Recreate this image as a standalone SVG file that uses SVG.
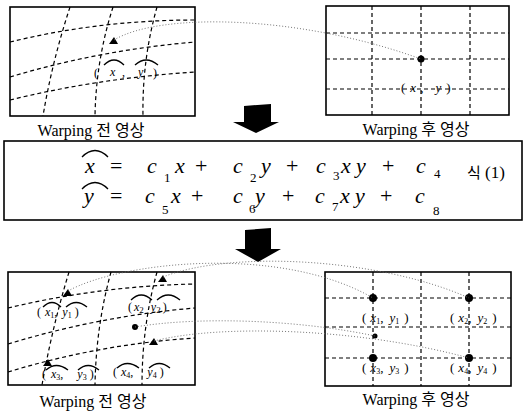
<svg xmlns="http://www.w3.org/2000/svg" width="525" height="414" viewBox="0 0 525 414">
<style>
.box{fill:none;stroke:#000;stroke-width:1.6}
.grid{fill:none;stroke:#000;stroke-width:1.2;stroke-dasharray:4 3}
.conn{fill:none;stroke:#666;stroke-width:0.9;stroke-dasharray:1 2}
.hat{fill:none;stroke:#000;stroke-width:1.3}
.cap{font-family:"Liberation Serif","Noto Sans CJK KR",serif;font-size:16px;fill:#000;text-anchor:middle}
.eq{font-family:"Liberation Serif",serif;font-size:22px;font-style:italic;fill:#000}
.op{font-family:"Liberation Serif",serif;font-size:22px;fill:#000}
.sb{font-family:"Liberation Serif",serif;font-size:13px;fill:#000}
.lb{font-family:"Liberation Serif",serif;font-size:12px;fill:#000}
.rl{font-family:"Liberation Serif",serif;font-size:13px;fill:#000}
.it{font-style:italic}
.ko{font-family:"Noto Sans CJK KR",sans-serif;font-size:15px;fill:#000}
</style>

<!-- Top-left: before warping -->
<g id="before-top">
  <rect class="box" x="10" y="7" width="185" height="109"/>
  <path class="grid" d="M70,7 Q52,62 43,116"/>
  <path class="grid" d="M113,7 Q96,60 95,116"/>
  <path class="grid" d="M157,7 Q142,60 143,116"/>
  <path class="grid" d="M10,42 Q100,20 195,20"/>
  <path class="grid" d="M10,77 Q100,50 195,42"/>
  <path class="grid" d="M10,100 Q100,78 195,72"/>
  <polygon points="109,44 118,44 114,37" fill="#000"/>
  <text class="lb" x="94" y="77" font-size="15">(</text>
  <text class="lb it" x="110" y="76">x</text>
  <text class="lb" x="122" y="76">,</text>
  <text class="lb it" x="138" y="76">y</text>
  <text class="lb" x="153" y="77" font-size="15">)</text>
  <path class="hat" d="M104,65 Q114,55 124,65"/>
  <path class="hat" d="M135,65 Q146,55 158,65"/>
  <text class="cap" x="91" y="136">Warping 전 영상</text>
</g>

<!-- Top-right: after warping -->
<g id="after-top">
  <rect class="box" x="326" y="6" width="183" height="109"/>
  <path class="grid" d="M372,6 V115 M421,6 V115 M470,6 V115 M326,33 H509 M326,59 H509 M326,89 H509"/>
  <circle cx="421" cy="59" r="3.5" fill="#000"/>
  <text class="rl" x="401" y="92">(<tspan class="it" dx="5">x</tspan><tspan dx="4">,</tspan><tspan class="it" dx="12">y</tspan><tspan dx="5">)</tspan></text>
  <text class="cap" x="416" y="135">Warping 후 영상</text>
</g>

<!-- Arrows -->
<g id="arrow-1">
  <polygon points="244,106 271,104 271,122 279,122 256,133 233,122 244,122" fill="#000"/>
</g>
<g id="arrow-2">
  <polygon points="245,230 271,228 271,249 281,249 258,262 235,249 245,249" fill="#000"/>
</g>

<!-- Equation -->
<g id="equation">
  <rect class="box" x="4" y="141" width="518" height="79"/>
  <path class="hat" d="M82,157 Q95,144 108,157"/>
  <text class="eq" x="85" y="173">x</text>
  <text class="op" x="110" y="173">=</text>
  <text class="eq" x="147" y="173">c</text><text class="sb" x="164" y="182">1</text>
  <text class="eq" x="175" y="173">x</text>
  <text class="op" x="195" y="173">+</text>
  <text class="eq" x="233" y="173">c</text><text class="sb" x="250" y="182">2</text>
  <text class="eq" x="261" y="173">y</text>
  <text class="op" x="286" y="173">+</text>
  <text class="eq" x="316" y="173">c</text><text class="sb" x="333" y="180">3</text>
  <text class="eq" x="341" y="173">x</text>
  <text class="eq" x="356" y="173">y</text>
  <text class="op" x="382" y="173">+</text>
  <text class="eq" x="416" y="173">c</text><text class="sb" x="434" y="178">4</text>

  <path class="hat" d="M82,189 Q95,176 108,189"/>
  <text class="eq" x="84" y="203">y</text>
  <text class="op" x="110" y="203">=</text>
  <text class="eq" x="145" y="203">c</text><text class="sb" x="162" y="214">5</text>
  <text class="eq" x="171" y="203">x</text>
  <text class="op" x="191" y="203">+</text>
  <text class="eq" x="233" y="203">c</text><text class="sb" x="249" y="213">6</text>
  <text class="eq" x="255" y="203">y</text>
  <text class="op" x="282" y="203">+</text>
  <text class="eq" x="315" y="203">c</text><text class="sb" x="332" y="211">7</text>
  <text class="eq" x="340" y="203">x</text>
  <text class="eq" x="355" y="203">y</text>
  <text class="op" x="380" y="203">+</text>
  <text class="eq" x="415" y="203">c</text><text class="sb" x="433" y="215">8</text>

  <text x="467" y="178"><tspan class="ko">식</tspan><tspan font-family="Liberation Serif, serif" font-size="17"> (1)</tspan></text>
</g>

<!-- Bottom-left: before warping -->
<g id="before-bottom">
  <rect class="box" x="8" y="272" width="187" height="113"/>
  <path class="grid" d="M69,272 Q52,328 42,385"/>
  <path class="grid" d="M111,272 Q96,326 95,385"/>
  <path class="grid" d="M157,272 Q142,326 142,385"/>
  <path class="grid" d="M8,308 Q100,286 195,284"/>
  <path class="grid" d="M8,344 Q100,316 195,308"/>
  <path class="grid" d="M8,372 Q100,344 195,338"/>
  <polygon points="63,296 72,296 68,289" fill="#000"/>
  <polygon points="158,282 167,282 163,275" fill="#000"/>
  <polygon points="43,366 52,366 48,359" fill="#000"/>
  <polygon points="149,345 158,345 154,338" fill="#000"/>
  <circle cx="135" cy="327" r="3" fill="#000"/>

  <text class="lb" x="37" y="316">(<tspan class="it" dx="4">x</tspan><tspan font-size="8" dy="2">1</tspan><tspan dy="-2">,</tspan><tspan class="it" dx="5">y</tspan><tspan font-size="8" dy="2">1</tspan><tspan dy="-2" dx="3">)</tspan></text>
  <path class="hat" d="M43,307 Q52,298 61,307"/>
  <path class="hat" d="M66,307 Q76,298 87,307"/>

  <text class="lb" x="128" y="311" font-size="14">(<tspan class="it" dx="2">x</tspan><tspan font-size="9" dy="2">2</tspan><tspan dy="-2"> </tspan><tspan class="it" dx="4">y</tspan><tspan font-size="9" dy="2">2</tspan><tspan dy="-2" dx="2">)</tspan></text>
  <path class="hat" d="M131,300 Q141,290 152,300"/>
  <path class="hat" d="M157,300 Q168,290 180,300"/>

  <text class="lb" x="42" y="378">(<tspan class="it" dx="5">x</tspan><tspan font-size="8" dy="2">3</tspan><tspan dy="-2">,</tspan><tspan class="it" dx="14">y</tspan><tspan font-size="8" dy="2">3</tspan><tspan dy="-2" dx="3">)</tspan></text>
  <path class="hat" d="M46,370 Q56,361 68,370"/>
  <path class="hat" d="M78,370 Q88,361 99,370"/>

  <text class="lb" x="113" y="376">(<tspan class="it" dx="4">x</tspan><tspan font-size="8" dy="2">4</tspan><tspan dy="-2">,</tspan><tspan class="it" dx="14">y</tspan><tspan font-size="8" dy="2">4</tspan><tspan dy="-2" dx="3">)</tspan></text>
  <path class="hat" d="M117,368 Q127,359 139,368"/>
  <path class="hat" d="M149,368 Q159,359 170,368"/>

  <text class="cap" x="93" y="407">Warping 전 영상</text>
</g>

<!-- Bottom-right: after warping -->
<g id="after-bottom">
  <rect class="box" x="325" y="272" width="186" height="114"/>
  <path class="grid" d="M373,272 V386 M421,272 V386 M469,272 V386 M325,298 H511 M325,327 H511 M325,358 H511"/>
  <circle cx="373" cy="298" r="4" fill="#000"/>
  <circle cx="469" cy="298" r="4" fill="#000"/>
  <circle cx="375" cy="336" r="2.5" fill="#000"/>
  <circle cx="373" cy="358" r="4" fill="#000"/>
  <circle cx="469" cy="358" r="4" fill="#000"/>
  <text class="rl" x="362" y="322">(<tspan class="it" dx="4">x</tspan><tspan font-size="8" dy="2">1</tspan><tspan dy="-2">,</tspan><tspan class="it" dx="6">y</tspan><tspan font-size="8" dy="2">1</tspan><tspan dy="-2" dx="5">)</tspan></text>
  <text class="rl" x="450" y="322">(<tspan class="it" dx="4">x</tspan><tspan font-size="8" dy="2">2</tspan><tspan dy="-2">,</tspan><tspan class="it" dx="6">y</tspan><tspan font-size="8" dy="2">2</tspan><tspan dy="-2" dx="5">)</tspan></text>
  <text class="rl" x="362" y="372">(<tspan class="it" dx="4">x</tspan><tspan font-size="8" dy="2">3</tspan><tspan dy="-2">,</tspan><tspan class="it" dx="6">y</tspan><tspan font-size="8" dy="2">3</tspan><tspan dy="-2" dx="5">)</tspan></text>
  <text class="rl" x="450" y="372">(<tspan class="it" dx="4">x</tspan><tspan font-size="8" dy="2">4</tspan><tspan dy="-2">,</tspan><tspan class="it" dx="6">y</tspan><tspan font-size="8" dy="2">4</tspan><tspan dy="-2" dx="5">)</tspan></text>
  <text class="cap" x="416" y="405">Warping 후 영상</text>
</g>

<!-- Connectors -->
<g id="connectors">
  <path class="conn" d="M114,40 C160,12 300,15 421,59"/>
  <path class="conn" d="M68,291 C120,262 280,244 373,298"/>
  <path class="conn" d="M163,277 C230,250 380,258 469,298"/>
  <path class="conn" d="M135,327 C200,316 300,320 375,336"/>
  <path class="conn" d="M154,341 C220,324 360,328 469,358"/>
</g>
</svg>
